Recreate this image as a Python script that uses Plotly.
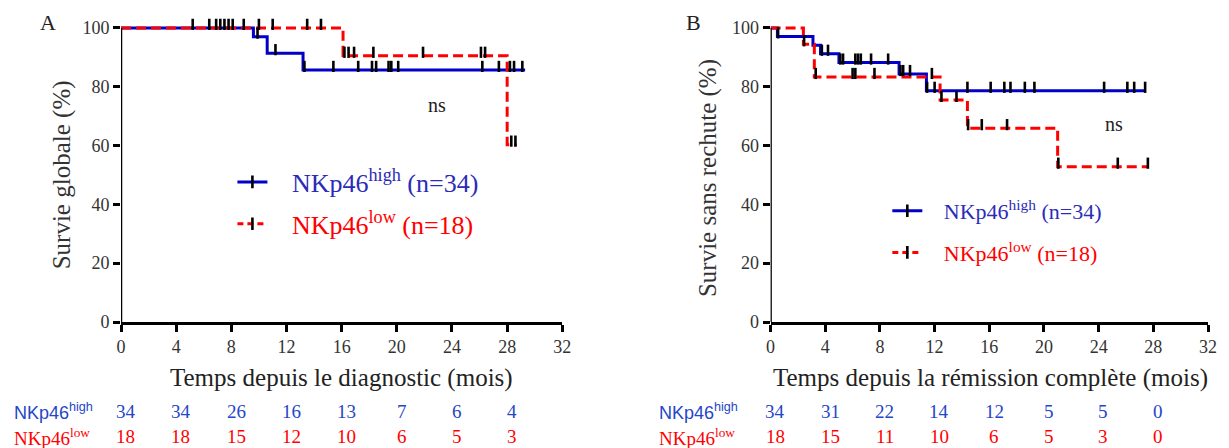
import plotly.graph_objects as go

# ---------------- Data ----------------
# Panel A : overall survival
A_high_t = [0, 9.6, 10.6, 13.2, 29.3]
A_high_s = [100, 97.0, 91.4, 85.7, 85.7]
A_high_cens_t = [5.2, 6.4, 6.9, 7.2, 7.5, 7.8, 8.1, 8.9, 9.9, 11.2,
                 13.3, 15.4, 17.2, 18.2, 18.5, 19.4, 19.6, 20.1, 26.2, 27.4, 28.2, 28.5, 29.1]
A_high_cens_s = [100, 100, 100, 100, 100, 100, 100, 100, 97.0, 91.4,
                 85.7, 85.7, 85.7, 85.7, 85.7, 85.7, 85.7, 85.7, 85.7, 85.7, 85.7, 85.7, 85.7]

A_low_t = [0, 16.1, 28.0, 28.7]
A_low_s = [100, 90.5, 60.3, 60.3]
A_low_cens_t = [10.0, 11.0, 13.5, 14.5, 16.2, 16.5, 16.9, 18.3, 21.9, 26.1, 26.4, 28.3, 28.6]
A_low_cens_s = [100, 100, 100, 100, 90.5, 90.5, 90.5, 90.5, 90.5, 90.5, 90.5, 60.3, 60.3]

# Panel B : relapse-free survival
B_high_t = [0, 0.5, 3.1, 3.65, 5.0, 9.4, 11.4, 27.4]
B_high_s = [100, 97.1, 94.1, 91.2, 88.2, 84.3, 78.6, 78.6]
B_high_cens_t = [0.55, 3.75, 4.2, 5.1, 5.3, 6.2, 6.4, 6.6, 7.35, 8.6, 9.5, 9.7, 10.2,
                 11.45, 12.0, 14.4, 16.1, 17.1, 17.55, 18.6, 19.3, 24.4, 26.1, 26.6, 27.4]
B_high_cens_s = [97.1, 91.2, 91.2, 88.2, 88.2, 88.2, 88.2, 88.2, 88.2, 88.2, 84.3, 84.3, 84.3,
                 78.6, 78.6, 78.6, 78.6, 78.6, 78.6, 78.6, 78.6, 78.6, 78.6, 78.6, 78.6]

B_low_t = [0, 2.4, 3.2, 12.4, 14.4, 21.0, 27.6]
B_low_s = [100, 94.4, 83.3, 75.5, 65.9, 52.8, 52.8]
B_low_cens_t = [2.45, 3.3, 6.0, 6.2, 7.6, 11.8, 12.5, 13.6, 14.45, 15.45, 17.3, 21.05, 25.4, 27.6]
B_low_cens_s = [94.4, 83.3, 83.3, 83.3, 83.3, 83.3, 75.5, 75.5, 65.9, 65.9, 65.9, 52.8, 52.8, 52.8]

# Numbers at risk
risk_times = [0, 4, 8, 12, 16, 20, 24, 28]
A_risk_high = [34, 34, 26, 16, 13, 7, 6, 4]
A_risk_low = [18, 18, 15, 12, 10, 6, 5, 3]
B_risk_high = [34, 31, 22, 14, 12, 5, 5, 0]
B_risk_low = [18, 15, 11, 10, 6, 5, 3, 0]

x_ticks = [0, 4, 8, 12, 16, 20, 24, 28, 32]
y_ticks = [0, 20, 40, 60, 80, 100]

# ---------------- Styles ----------------
BLUE = "#0000c8"
RED = "#ff0000"
BLUE_TXT = "#2b2bb8"
RISK_BLUE = "#2446c8"
SERIF = "Liberation Serif, Times New Roman, serif"
SANS = "Liberation Sans, Arial, sans-serif"
LW = 3

fig = go.Figure()

def add_panel(xa, ya, ya_c, ht, hs, hct, hcs, lt, ls, lct, lcs):
    fig.add_trace(go.Scatter(x=ht, y=hs, mode="lines", line=dict(color=BLUE, width=LW, shape="hv"),
                             xaxis=xa, yaxis=ya, showlegend=False, hoverinfo="skip"))
    fig.add_trace(go.Scatter(x=lt, y=ls, mode="lines",
                             line=dict(color=RED, width=LW, shape="hv", dash="10px,5px"),
                             xaxis=xa, yaxis=ya, showlegend=False, hoverinfo="skip"))
    for ct, cs in ((hct, hcs), (lct, lcs)):
        fig.add_trace(go.Scatter(x=ct, y=cs, mode="markers", cliponaxis=False,
                                 marker=dict(symbol="line-ns", size=8, color="black",
                                             line=dict(color="black", width=2.6)),
                                 xaxis=xa, yaxis=ya_c, showlegend=False, hoverinfo="skip"))

add_panel("x", "y", "y3", A_high_t, A_high_s, A_high_cens_t, A_high_cens_s,
          A_low_t, A_low_s, A_low_cens_t, A_low_cens_s)
add_panel("x2", "y2", "y4", B_high_t, B_high_s, B_high_cens_t, B_high_cens_s,
          B_low_t, B_low_s, B_low_cens_t, B_low_cens_s)

SP = "&nbsp;&nbsp;&nbsp;"

# Legend entries
def legend_traces(legend, xa, ya):
    fig.add_trace(go.Scatter(x=[None], y=[None], mode="lines+markers", xaxis=xa, yaxis=ya,
                             line=dict(color=BLUE, width=LW),
                             marker=dict(symbol="line-ns", size=9, line=dict(color="black", width=2.6)),
                             name=f'{SP}<span style="color:{BLUE_TXT}">NKp46<sup>high</sup> (n=34)</span>',
                             legend=legend, legendgroup=legend + "h"))
    fig.add_trace(go.Scatter(x=[None], y=[None], mode="lines+markers", xaxis=xa, yaxis=ya,
                             line=dict(color=RED, width=LW, dash="6px,4px"),
                             marker=dict(symbol="line-ns", size=9, line=dict(color="black", width=2.6)),
                             name=f'{SP}<span style="color:{RED}">NKp46<sup>low</sup> (n=18)</span>',
                             legend=legend, legendgroup=legend + "l"))

legend_traces("legend", "x", "y")
legend_traces("legend2", "x2", "y2")

axis_common = dict(range=[0, 32], tickvals=x_ticks, ticks="outside", ticklen=7, tickwidth=2.5,
                   tickcolor="black", showline=True, linewidth=2.5, linecolor="black",
                   showgrid=False, zeroline=False, tickfont=dict(family=SERIF, size=18, color="#333"))
yaxis_common = dict(range=[0, 102], tickvals=y_ticks, ticks="outside", ticklen=7, tickwidth=2.5,
                    tickcolor="black", showline=False, showgrid=False, zeroline=False,
                    tickfont=dict(family=SERIF, size=18, color="#333"))

fig.update_layout(
    width=1229, height=448,
    margin=dict(l=121, r=12, t=22, b=126),
    paper_bgcolor="white", plot_bgcolor="white",
    xaxis=dict(domain=[0, 0.406], anchor="y", **axis_common),
    xaxis2=dict(domain=[0.5976, 1.0], anchor="y2", **axis_common),
    yaxis=dict(domain=[0, 1], anchor="x", **yaxis_common),
    yaxis2=dict(domain=[0, 1], anchor="x2", **yaxis_common),
    yaxis3=dict(overlaying="y", anchor="x", range=[-1.2, 100.8], visible=False),
    yaxis4=dict(overlaying="y2", anchor="x2", range=[-1.2, 100.8], visible=False),
    legend=dict(x=0.1025, y=0.545, xanchor="left", yanchor="top", bgcolor="rgba(0,0,0,0)",
                font=dict(family=SERIF, size=26), tracegroupgap=5, itemwidth=30),
    legend2=dict(x=0.705, y=0.44, xanchor="left", yanchor="top", bgcolor="rgba(0,0,0,0)",
                 font=dict(family=SERIF, size=22), tracegroupgap=10, itemwidth=30),
    showlegend=True,
)

# y-axis lines drawn from 0 to 100 only
for xr, yr in (("x", "y"), ("x2", "y2")):
    fig.add_shape(type="line", xref=xr, yref=yr, x0=0, x1=0, y0=0, y1=100,
                  line=dict(color="black", width=2.5), layer="above")

ann = []
ann.append(dict(text="A", x=-0.0675, y=1.0, xref="paper", yref="paper", showarrow=False,
                font=dict(family=SERIF, size=22, color="#222"), xanchor="center", yanchor="middle"))
ann.append(dict(text="B", x=0.5265, y=1.0, xref="paper", yref="paper", showarrow=False,
                font=dict(family=SERIF, size=22, color="#222"), xanchor="center", yanchor="middle"))
ann.append(dict(text="ns", x=22.9, y=73.8, xref="x", yref="y", showarrow=False,
                font=dict(family=SERIF, size=20, color="#222")))
ann.append(dict(text="ns", x=25.1, y=67.3, xref="x2", yref="y2", showarrow=False,
                font=dict(family=SERIF, size=20, color="#222")))

# axis titles
TITLE_FONT = dict(family=SERIF, size=25, color="#222")
ann.append(dict(text="Temps depuis le diagnostic (mois)", x=0.2026, y=-0.187, xref="paper",
                yref="paper", showarrow=False, xanchor="center", yanchor="middle", font=TITLE_FONT))
ann.append(dict(text="Temps depuis la rémission complète (mois)", x=0.80, y=-0.187, xref="paper",
                yref="paper", showarrow=False, xanchor="center", yanchor="middle", font=TITLE_FONT))
YT_FONT = dict(family=SERIF, size=25, color="#333")
ann.append(dict(text="Survie globale (%)", x=-0.054, y=0.49, xref="paper", yref="paper",
                showarrow=False, textangle=-90, xanchor="center", yanchor="middle", font=YT_FONT))
ann.append(dict(text="Survie sans rechute (%)", x=0.5401, y=0.48, xref="paper", yref="paper",
                showarrow=False, textangle=-90, xanchor="center", yanchor="middle", font=YT_FONT))

ROW1, ROW2 = -0.297, -0.383
for xr, hi, lo in (("x", A_risk_high, A_risk_low), ("x2", B_risk_high, B_risk_low)):
    for t, h, l in zip(risk_times, hi, lo):
        ann.append(dict(text=str(h), x=t + 0.35, y=ROW1, xref=xr, yref="paper", showarrow=False,
                        font=dict(family=SERIF, size=19, color=RISK_BLUE), yanchor="middle"))
        ann.append(dict(text=str(l), x=t + 0.35, y=ROW2, xref=xr, yref="paper", showarrow=False,
                        font=dict(family=SERIF, size=19, color=RED), yanchor="middle"))

for xp in (-0.1, 0.493):
    ann.append(dict(text="NKp46<sup>high</sup>", x=xp, y=ROW1, xref="paper", yref="paper",
                    showarrow=False, xanchor="left", yanchor="middle",
                    font=dict(family=SANS, size=18, color=RISK_BLUE)))
    ann.append(dict(text="NKp46<sup>low</sup>", x=xp, y=ROW2, xref="paper", yref="paper",
                    showarrow=False, xanchor="left", yanchor="middle",
                    font=dict(family=SERIF, size=19, color=RED)))

fig.update_layout(annotations=ann)
fig.write_html("out.html", config={"displayModeBar": False},
               post_script="document.body.style.margin='0';document.body.style.overflow='hidden';")
